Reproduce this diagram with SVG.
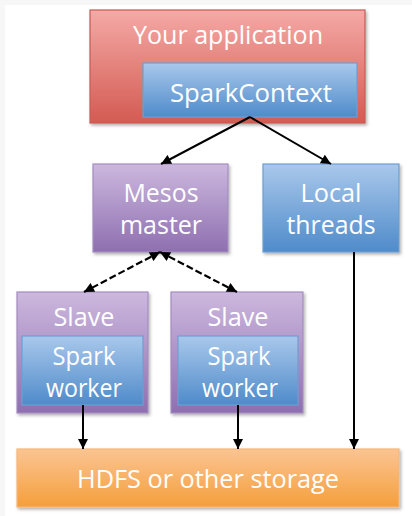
<svg xmlns="http://www.w3.org/2000/svg" width="412" height="516" viewBox="0 0 412 516">
<defs>
<linearGradient id="gRed" x1="0" y1="0" x2="0" y2="1"><stop offset="0" stop-color="#f5a9a6"/><stop offset="1" stop-color="#d35b52"/></linearGradient>
<linearGradient id="gBlue" x1="0" y1="0" x2="0" y2="1"><stop offset="0" stop-color="#a9c8eb"/><stop offset="1" stop-color="#4f8bca"/></linearGradient>
<linearGradient id="gPurple" x1="0" y1="0" x2="0" y2="1"><stop offset="0" stop-color="#ccb8de"/><stop offset="1" stop-color="#8e6fb0"/></linearGradient>
<linearGradient id="gOrange" x1="0" y1="0" x2="0" y2="1"><stop offset="0" stop-color="#fbc492"/><stop offset="1" stop-color="#f59f3c"/></linearGradient>
<filter id="sh" x="-10%" y="-10%" width="130%" height="130%"><feDropShadow dx="1.5" dy="2" stdDeviation="1.5" flood-color="#000" flood-opacity="0.3"/></filter>
<marker id="ah" viewBox="0 0 10 10" refX="10" refY="5" markerWidth="12" markerHeight="10" markerUnits="userSpaceOnUse" orient="auto-start-reverse"><path d="M0,0 L10,5 L0,10 z" fill="#000"/></marker>
<style>
.t{fill:#fff;font-family:"Open Sans","Noto Sans","Liberation Sans",sans-serif;font-size:26px;text-anchor:middle}
.red{fill:url(#gRed);stroke:#c65a55;stroke-width:1.2}
.blue{fill:url(#gBlue);stroke:#6d9fd2;stroke-width:1.2}
.purple{fill:url(#gPurple);stroke:#a48cc0;stroke-width:1.2}
.orange{fill:url(#gOrange);stroke:#f6b67a;stroke-width:1.2}
.c{stroke:#000;stroke-width:2;fill:none;marker-end:url(#ah)}
.d{stroke:#000;stroke-width:2.2;fill:none;stroke-dasharray:7 3;marker-start:url(#ah);marker-end:url(#ah)}
</style>
</defs>
<rect width="412" height="516" fill="#f7f7f7"/>
<rect x="5" y="5" width="407" height="511" fill="#fff"/>
<g id="app">
<rect class="red" x="90" y="10" width="275" height="113" filter="url(#sh)"/>
<text class="t" x="228" y="44" textLength="190" lengthAdjust="spacingAndGlyphs">Your application</text>
</g>
<g id="sparkcontext">
<rect class="blue" x="143" y="63" width="214" height="54"/>
<text class="t" x="251" y="102" textLength="162" lengthAdjust="spacingAndGlyphs">SparkContext</text>
</g>
<g id="mesos">
<rect class="purple" x="93" y="164" width="135" height="88" filter="url(#sh)"/>
<text class="t" x="161" y="202" textLength="75" lengthAdjust="spacingAndGlyphs">Mesos</text>
<text class="t" x="161" y="234" textLength="82" lengthAdjust="spacingAndGlyphs">master</text>
</g>
<g id="local">
<rect class="blue" x="263" y="164" width="136" height="88" filter="url(#sh)"/>
<text class="t" x="331" y="202" textLength="61" lengthAdjust="spacingAndGlyphs">Local</text>
<text class="t" x="331" y="234" textLength="89" lengthAdjust="spacingAndGlyphs">threads</text>
</g>
<g id="slave1">
<rect class="purple" x="17" y="292" width="131" height="121" filter="url(#sh)"/>
<text class="t" x="84" y="326" textLength="61" lengthAdjust="spacingAndGlyphs">Slave</text>
</g>
<g id="worker1">
<rect class="blue" x="22" y="336" width="121" height="69"/>
<text class="t" x="84" y="365" textLength="63" lengthAdjust="spacingAndGlyphs">Spark</text>
<text class="t" x="84" y="397" textLength="76" lengthAdjust="spacingAndGlyphs">worker</text>
</g>
<g id="slave2">
<rect class="purple" x="171" y="292" width="132" height="121" filter="url(#sh)"/>
<text class="t" x="238" y="326" textLength="61" lengthAdjust="spacingAndGlyphs">Slave</text>
</g>
<g id="worker2">
<rect class="blue" x="178" y="336" width="120" height="69"/>
<text class="t" x="239" y="365" textLength="63" lengthAdjust="spacingAndGlyphs">Spark</text>
<text class="t" x="240" y="397" textLength="76" lengthAdjust="spacingAndGlyphs">worker</text>
</g>
<g id="hdfs">
<rect class="orange" x="17" y="449" width="382" height="58" filter="url(#sh)"/>
<text class="t" x="208" y="488" textLength="262" lengthAdjust="spacingAndGlyphs">HDFS or other storage</text>
</g>
<g id="connectors">
<line class="c" x1="250" y1="117" x2="161" y2="164"/>
<line class="c" x1="250" y1="117" x2="331" y2="164"/>
<line class="d" x1="160" y1="252" x2="84" y2="292"/>
<line class="d" x1="160" y1="252" x2="237" y2="292"/>
<line class="c" x1="83" y1="405" x2="83" y2="449"/>
<line class="c" x1="238" y1="405" x2="238" y2="449"/>
<line class="c" x1="354" y1="252" x2="354" y2="449"/>
</g>
</svg>
